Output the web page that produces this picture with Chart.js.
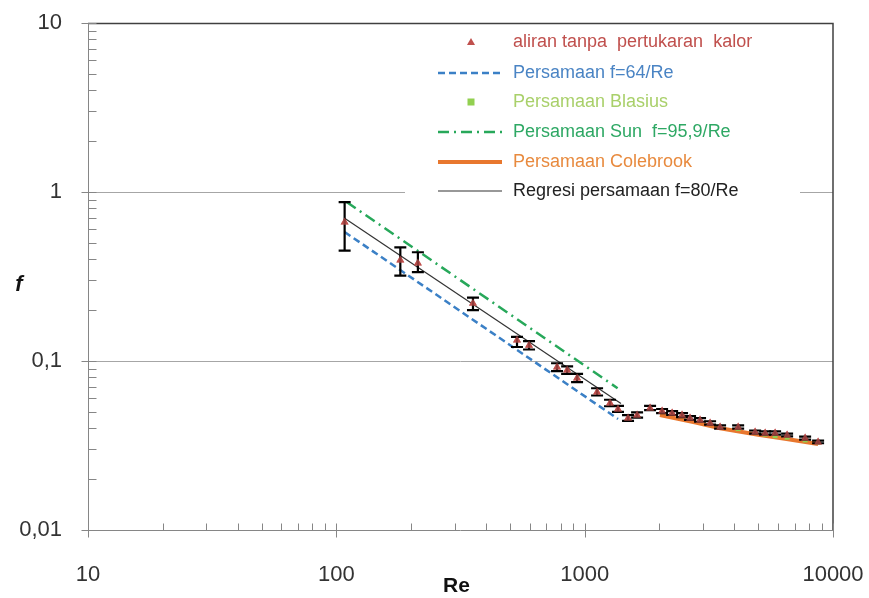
<!DOCTYPE html>
<html>
<head>
<meta charset="utf-8">
<script src="https://cdn.jsdelivr.net/npm/chart.js@4/dist/chart.umd.min.js"></script>
<style>
  html, body { margin: 0; padding: 0; background: #ffffff; }
  #wrap { width: 869px; height: 598px; }
</style>
</head>
<body>
<div id="wrap"><canvas id="c" width="869" height="598"></canvas></div>
<script>
// ---------- DATA ----------
const seriesLabels = [
  'aliran tanpa  pertukaran  kalor',
  'Persamaan f=64/Re',
  'Persamaan Blasius',
  'Persamaan Sun  f=95,9/Re',
  'Persamaan Colebrook',
  'Regresi persamaan f=80/Re'
];

// measured points (triangles) with error bars
const expRe   = [108, 181, 213, 355, 534, 597, 774, 850, 932, 1122, 1265, 1362, 1495, 1626,
                 1834, 2050, 2250, 2467, 2657, 2915, 3199, 3510, 4150, 4857, 5330, 5847, 6535, 7723, 8710];
const expF    = [0.665, 0.396, 0.380, 0.220, 0.133, 0.124, 0.092, 0.0885, 0.0793, 0.0656, 0.0564, 0.0520, 0.0460, 0.0479,
                 0.0527, 0.0506, 0.0492, 0.0479, 0.0460, 0.0448, 0.0430, 0.0407, 0.0407, 0.0380, 0.0375, 0.0375, 0.0365, 0.0350, 0.0332];
const expFLow = [0.450, 0.320, 0.336, 0.200, 0.121, 0.117, 0.087, 0.084, 0.075, 0.0625, 0.0540, 0.0500, 0.0442, 0.0462,
                 0.0512, 0.0492, 0.0479, 0.0466, 0.0448, 0.0437, 0.0420, 0.0398, 0.0398, 0.0372, 0.0367, 0.0367, 0.0358, 0.0343, 0.0326];
const expFHigh= [0.870, 0.470, 0.440, 0.237, 0.139, 0.131, 0.097, 0.093, 0.084, 0.0690, 0.0590, 0.0542, 0.0478, 0.0496,
                 0.0542, 0.0520, 0.0505, 0.0492, 0.0472, 0.0459, 0.0440, 0.0416, 0.0416, 0.0388, 0.0383, 0.0383, 0.0372, 0.0357, 0.0338];

// Persamaan f=64/Re (end points)
const laminarRe = [108, 1362];
const laminarF  = [0.580, 0.0454];

// Persamaan Blasius (square markers)
const blasiusRe = [4150, 4857, 5330, 5847, 6535, 7723, 8710];
const blasiusF  = [0.0398, 0.0378, 0.0369, 0.0361, 0.0354, 0.0341, 0.0330];

// Persamaan Sun f=95,9/Re
const sunRe = [110, 1357];
const sunF  = [0.873, 0.069];

// Persamaan Colebrook
const colebrookRe = [2010, 2800, 3510, 5000, 6500, 8710];
const colebrookF  = [0.0479, 0.0432, 0.0400, 0.0366, 0.0346, 0.0323];

// Regresi persamaan f=80/Re
const regRe = [108, 1400];
const regF  = [0.700, 0.0560];

// axis ticks
const xTickValues = [10, 100, 1000, 10000];
const xTickLabels = ['10', '100', '1000', '10000'];
const yTickValues = [0.01, 0.1, 1, 10];
const yTickLabels = ['0,01', '0,1', '1', '10'];
const yGridValues = [0.1, 1];
const xAxisTitle = 'Re';
const yAxisTitle = 'f';

// ---------- helpers ----------
const pts = (xs, ys) => xs.map((v, i) => ({ x: v, y: ys[i] }));

const COLORS = {
  exp: '#c0504d',
  laminar: '#3b80c6',
  blasius: '#92d050',
  sun: '#27a85a',
  colebrook: '#e8772e',
  reg: '#333333'
};
const TEXT_COLORS = ['#c0504d', '#4a84c4', '#a9d06a', '#2ea864', '#e88a3e', '#222222'];

const FONT = '"Liberation Sans", Arial, sans-serif';

// ---------- plugins ----------
const axesPlugin = {
  id: 'axesPlugin',
  beforeDatasetsDraw(chart) {
    const { ctx, chartArea: a, scales: { x, y } } = chart;
    ctx.save();
    // horizontal major gridlines
    ctx.strokeStyle = '#a6a6a6';
    ctx.lineWidth = 1;
    yGridValues.forEach(v => {
      const py = Math.round(y.getPixelForValue(v)) + 0.5;
      ctx.beginPath(); ctx.moveTo(a.left, py); ctx.lineTo(a.right, py); ctx.stroke();
    });
    // frame top / right
    ctx.strokeStyle = '#404040';
    ctx.lineWidth = 1.5;
    ctx.beginPath();
    ctx.moveTo(a.left, a.top + 0.5); ctx.lineTo(a.right, a.top + 0.5); ctx.lineTo(a.right, a.bottom);
    ctx.stroke();
    // axes lines
    ctx.strokeStyle = '#868686';
    ctx.lineWidth = 1;
    const lx = Math.round(a.left) + 0.5, by = Math.round(a.bottom) + 0.5;
    ctx.beginPath(); ctx.moveTo(lx, a.top); ctx.lineTo(lx, a.bottom); ctx.stroke();
    ctx.beginPath(); ctx.moveTo(a.left, by); ctx.lineTo(a.right, by); ctx.stroke();
    // ticks: major cross, minor inside
    for (let d = 0; d < xTickValues.length; d++) {
      const v = xTickValues[d];
      const px = Math.round(x.getPixelForValue(v)) + 0.5;
      ctx.beginPath(); ctx.moveTo(px, by - 7); ctx.lineTo(px, by + 7); ctx.stroke();
      if (d < xTickValues.length - 1) {
        for (let m = 2; m <= 9; m++) {
          const mx = Math.round(x.getPixelForValue(v * m)) + 0.5;
          ctx.beginPath(); ctx.moveTo(mx, by - 7); ctx.lineTo(mx, by); ctx.stroke();
        }
      }
    }
    for (let d = 0; d < yTickValues.length; d++) {
      const v = yTickValues[d];
      const py = Math.round(y.getPixelForValue(v)) + 0.5;
      ctx.beginPath(); ctx.moveTo(lx - 7, py); ctx.lineTo(lx + 8, py); ctx.stroke();
      if (d < yTickValues.length - 1) {
        for (let m = 2; m <= 9; m++) {
          const my = Math.round(y.getPixelForValue(v * m)) + 0.5;
          ctx.beginPath(); ctx.moveTo(lx, my); ctx.lineTo(lx + 8, my); ctx.stroke();
        }
      }
    }
    ctx.restore();
  },
  afterDatasetsDraw(chart) {
    const { ctx, scales: { x, y } } = chart;
    ctx.save();
    ctx.strokeStyle = '#000000';
    ctx.lineWidth = 2.2;
    expRe.forEach((re, i) => {
      const px = x.getPixelForValue(re);
      const yl = y.getPixelForValue(expFLow[i]);
      const yh = y.getPixelForValue(expFHigh[i]);
      const cap = 6;
      ctx.beginPath();
      ctx.moveTo(px, yl); ctx.lineTo(px, yh);
      ctx.moveTo(px - cap, yl); ctx.lineTo(px + cap, yl);
      ctx.moveTo(px - cap, yh); ctx.lineTo(px + cap, yh);
      ctx.stroke();
    });
    // re-draw the triangles semi-transparently so they show through like the reference
    const meta = chart.getDatasetMeta(0);
    ctx.fillStyle = 'rgba(192,80,77,0.75)';
    meta.data.forEach(el => {
      const r = 4.5;
      ctx.beginPath();
      ctx.moveTo(el.x, el.y - r);
      ctx.lineTo(el.x + r * 0.9, el.y + r * 0.6);
      ctx.lineTo(el.x - r * 0.9, el.y + r * 0.6);
      ctx.closePath(); ctx.fill();
    });
    ctx.restore();
  },
  afterDraw(chart) {
    const { ctx, chartArea: a, scales: { x, y } } = chart;
    ctx.save();
    // axis titles
    ctx.fillStyle = '#111111';
    ctx.font = 'bold 21px ' + FONT;
    ctx.textAlign = 'center';
    ctx.textBaseline = 'middle';
    ctx.fillText(xAxisTitle, (x.getPixelForValue(1000) + x.getPixelForValue(100)) / 2 - 4, 586);
    ctx.font = 'italic bold 22px ' + FONT;
    ctx.fillText(yAxisTitle, 19, (a.top + a.bottom) / 2 + 8);

    // legend
    ctx.fillStyle = '#ffffff';
    ctx.fillRect(405, 27, 395, 172);
    const rowY = [42, 73, 102, 132, 162, 191];
    const symL = 438, symR = 502, symC = 471, textX = 513;
    ctx.font = '18px ' + FONT;
    ctx.textAlign = 'left';
    ctx.textBaseline = 'middle';
    const ds = chart.data.datasets;
    rowY.forEach((ry, i) => {
      const d = ds[i];
      ctx.save();
      if (d.showLine) {
        ctx.strokeStyle = d.borderColor;
        ctx.lineWidth = d.borderWidth;
        ctx.setLineDash(d.borderDash || []);
        ctx.beginPath(); ctx.moveTo(symL, ry); ctx.lineTo(symR, ry); ctx.stroke();
      } else if (d.pointStyle === 'triangle') {
        ctx.fillStyle = d.backgroundColor;
        ctx.beginPath(); ctx.moveTo(symC, ry - 4); ctx.lineTo(symC + 4, ry + 3); ctx.lineTo(symC - 4, ry + 3); ctx.closePath(); ctx.fill();
      } else {
        ctx.fillStyle = d.backgroundColor;
        ctx.fillRect(symC - 3.5, ry - 3.5, 7, 7);
      }
      ctx.restore();
      ctx.fillStyle = TEXT_COLORS[i];
      ctx.fillText(d.label, textX, ry);
    });
    ctx.restore();
  }
};

// ---------- chart ----------
const lineDs = (label, data, color, width, dash) => ({
  label, data, showLine: true, borderColor: color, backgroundColor: color,
  borderWidth: width, borderDash: dash, pointRadius: 0, pointHoverRadius: 0, tension: 0
});

new Chart(document.getElementById('c'), {
  type: 'scatter',
  data: {
    datasets: [
      { label: seriesLabels[0], data: pts(expRe, expF), pointStyle: 'triangle', pointRadius: 4.5,
        backgroundColor: COLORS.exp, borderColor: COLORS.exp, borderWidth: 0, showLine: false },
      lineDs(seriesLabels[1], pts(laminarRe, laminarF), COLORS.laminar, 2.5, [7, 4]),
      { label: seriesLabels[2], data: pts(blasiusRe, blasiusF), pointStyle: 'rect', pointRadius: 3.5,
        backgroundColor: COLORS.blasius, borderColor: COLORS.blasius, borderWidth: 0, showLine: false },
      lineDs(seriesLabels[3], pts(sunRe, sunF), COLORS.sun, 2.5, [11, 5, 2, 5]),
      lineDs(seriesLabels[4], pts(colebrookRe, colebrookF), COLORS.colebrook, 4, []),
      lineDs(seriesLabels[5], pts(regRe, regF), COLORS.reg, 1.2, [])
    ]
  },
  options: {
    responsive: false,
    animation: false,
    devicePixelRatio: 1,
    layout: { padding: { top: 23, right: 36, left: 0, bottom: 0 } },
    plugins: { legend: { display: false }, tooltip: { enabled: false } },
    scales: {
      x: {
        type: 'logarithmic', min: 10, max: 10000,
        grid: { display: false, drawTicks: false },
        border: { display: false },
        afterBuildTicks: s => { s.ticks = xTickValues.map(v => ({ value: v })); },
        afterFit: s => { s.height = 68; s.paddingLeft = 0; s.paddingRight = 0; },
        ticks: {
          autoSkip: false, maxRotation: 0, padding: 32,
          color: '#333333', font: { family: FONT, size: 22 },
          callback: (v, i) => xTickLabels[i]
        }
      },
      y: {
        type: 'logarithmic', min: 0.01, max: 10,
        grid: { display: false, drawTicks: false },
        border: { display: false },
        afterBuildTicks: s => { s.ticks = yTickValues.map(v => ({ value: v })); },
        afterFit: s => { s.width = 88; s.paddingTop = 0; s.paddingBottom = 0; },
        ticks: {
          autoSkip: false, padding: 26,
          color: '#333333', font: { family: FONT, size: 22 },
          callback: (v, i) => yTickLabels[i]
        }
      }
    }
  },
  plugins: [axesPlugin]
});
</script>
</body>
</html>
